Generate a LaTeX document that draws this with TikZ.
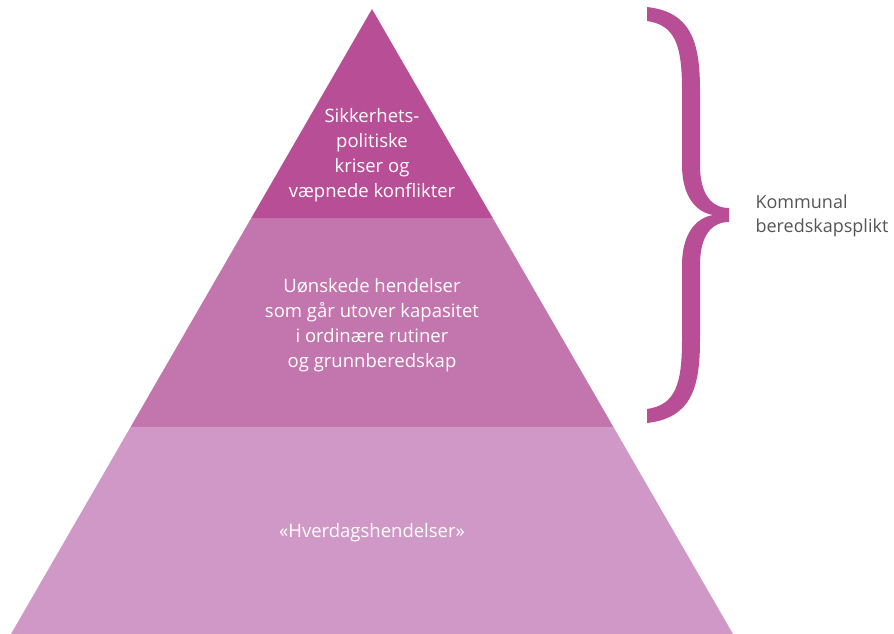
\documentclass[tikz,border=0pt]{standalone}
\usepackage{fontspec}
\setmainfont{Open Sans}[Ligatures={NoCommon}]
\usetikzlibrary{calc}

\definecolor{toplag}{HTML}{B84F96}
\definecolor{midtlag}{HTML}{C276AD}
\definecolor{bunnlag}{HTML}{D098C6}
\definecolor{tekstgraa}{HTML}{555555}

\begin{document}
\begin{tikzpicture}[x=1pt,y=-1pt]

      \useasboundingbox (0,0) rectangle (894,634);

      \coordinate (apex) at (372,9);
      \coordinate (bl) at (11,634);
      \coordinate (br) at (733,634);
      \coordinate (l1) at ($(apex)!0.3344!(bl)$);
      \coordinate (r1) at ($(apex)!0.3344!(br)$);
      \coordinate (l2) at ($(apex)!0.6688!(bl)$);
      \coordinate (r2) at ($(apex)!0.6688!(br)$);

      % lagene i pyramiden
      \fill[bunnlag] (l2) -- (r2) -- (br) -- (bl) -- cycle;
      \fill[midtlag] (l1) -- (r1) -- (r2) -- (l2) -- cycle;
      \fill[toplag] (apex) -- (r1) -- (l1) -- cycle;

      \begin{scope}[every node/.style={text=white,align=center,font=\fontsize{18.5}{25}\selectfont}]
        \node (topp)  at (372,155) {Sikkerhets-\\politiske\\kriser og\\væpnede konflikter};
        \node (midt)  at (372,325) {Uønskede hendelser\\som går utover kapasitet\\i ordinære rutiner\\og grunnberedskap};
        \node (bunn)  at (372,533) {«Hverdagshendelser»};
      \end{scope}

      % klammen
      \fill[toplag] (647,7) .. controls (690,12) and (700,40) .. (700,90) -- (700,165)
        .. controls (700,195) and (712,208) .. (729,208) -- (729,222)
        .. controls (712,222) and (700,235) .. (700,265) -- (700,340)
        .. controls (700,390) and (690,418) .. (647,423) -- (647,409)
        .. controls (675,405) and (682,385) .. (682,340) -- (682,265)
        .. controls (682,235) and (695,218) .. (713,215)
        .. controls (695,212) and (682,195) .. (682,165) -- (682,90)
        .. controls (682,45) and (675,25) .. (647,21) -- cycle;

      \node[anchor=west,align=left,text=tekstgraa,font=\fontsize{18}{24}\selectfont] (plikt) at (752,216) {Kommunal\\beredskapsplikt};

    \end{tikzpicture}
\end{document}
